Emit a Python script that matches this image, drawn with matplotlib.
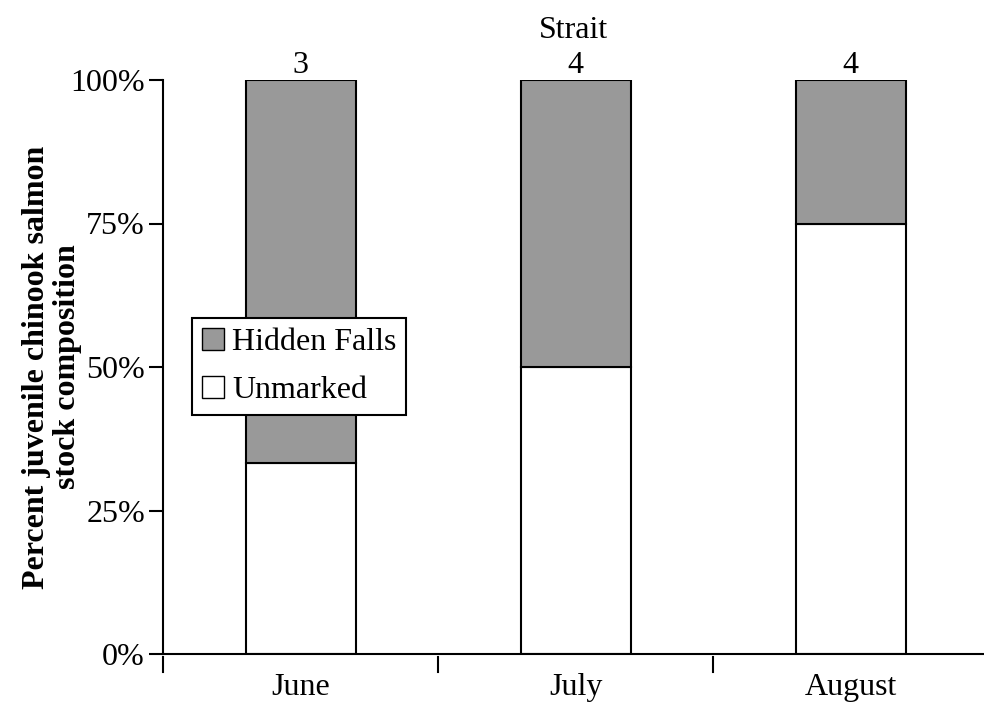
import matplotlib.pyplot as plt
from matplotlib.patches import Patch

months = ["June", "July", "August"]
unmarked = [33.3, 50.0, 75.0]
hidden_falls = [66.7, 50.0, 25.0]
n_fish = [3, 4, 4]

plt.rcParams['font.family'] = ['Liberation Serif', 'DejaVu Serif']
FS = 23

fig = plt.figure(figsize=(9.84, 7.04), dpi=100)
ax = fig.add_axes([163/984, 1-654/704, (984-163)/984, (654-80)/704])

x = range(len(months))
ax.bar(x, unmarked, width=0.4, color="white", edgecolor="black", linewidth=1.5)
ax.bar(x, hidden_falls, bottom=unmarked, width=0.4, color="#999999",
       edgecolor="black", linewidth=1.5)

for i, n in enumerate(n_fish):
    ax.text(i, 100, str(n), ha="center", va="bottom", fontsize=FS)

ax.set_xlim(-0.5, 2.485)
ax.set_ylim(0, 100)
ax.set_yticks([0, 25, 50, 75, 100])
ax.set_yticklabels(["0%", "25%", "50%", "75%", "100%"], fontsize=FS)
ax.tick_params(axis="y", direction="out", length=10, width=1.5, pad=3)

ax.set_xticks([0, 1, 2])
ax.set_xticklabels(months, fontsize=FS)
ax.tick_params(axis="x", length=0, pad=14)
for b in [-0.5, 0.5, 1.5]:
    ax.plot([b, b], [-0.6, -3.2], color="black", lw=1.5, clip_on=False)

for s in ["top", "right"]:
    ax.spines[s].set_visible(False)
ax.spines["left"].set_linewidth(1.5)
ax.spines["bottom"].set_linewidth(1.5)

fig.text(52/984, 1-367/704, "Percent juvenile chinook salmon\nstock composition",
         fontsize=FS, fontweight="bold", rotation=90, ha="center", va="center",
         linespacing=1.05)
ax.set_title("Strait", fontsize=FS, pad=30)

handles = [Patch(facecolor="#999999", edgecolor="black", label="Hidden Falls"),
           Patch(facecolor="white", edgecolor="black", label="Unmarked")]
leg = ax.legend(handles=handles, loc="upper left", bbox_to_anchor=(29/821, 1-238/574),
                fontsize=FS, frameon=True, fancybox=False, edgecolor="black",
                framealpha=1, handlelength=0.7, handleheight=0.7, handletextpad=0.25,
                borderpad=0.3, labelspacing=0.6, borderaxespad=0)
leg.get_frame().set_linewidth(1.5)

fig.savefig("out.png", dpi=100)
